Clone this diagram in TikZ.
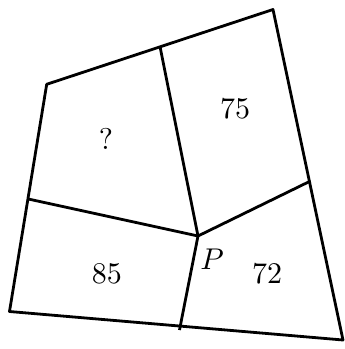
\documentclass[tikz,border=0pt]{standalone}
\begin{document}
\begin{tikzpicture}[x=1pt,y=-1pt,line width=2.8pt,line join=round,
  lbl/.style={inner sep=0pt,scale=3}]
\useasboundingbox (0,0) rectangle (345,349);
\coordinate (TL) at (46.7,84.3);
\coordinate (TR) at (273,9.5);
\coordinate (BR) at (343,340);
\coordinate (BL) at (9.5,311.5);
\coordinate (TM) at (160,46.5);
\coordinate (RM) at (310.5,181);
\coordinate (BM) at (179.5,330);
\coordinate (LM) at (28.3,199);
\coordinate (P) at (198,236);
\draw (TL) -- (TR) -- (BR) -- (BL) -- cycle;
\draw (TM) -- (P) -- (BM);
\draw (LM) -- (P) -- (RM);
\node[lbl] (q) at (106,139) {?};
\node[lbl] (a) at (235,109) {75};
\node[lbl] (b) at (107,274) {85};
\node[lbl] (c) at (267,274) {72};
\node[lbl] (p) at (212,259) {$P$};
\end{tikzpicture}
\end{document}
